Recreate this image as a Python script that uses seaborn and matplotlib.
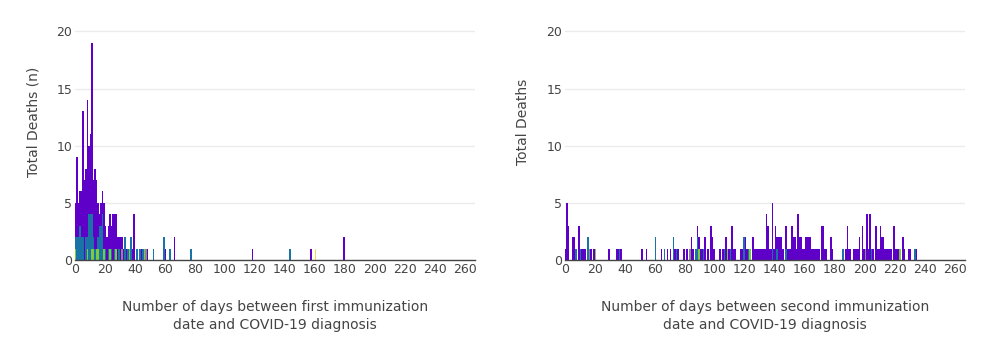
import numpy as np
import pandas as pd
import matplotlib
matplotlib.use("Agg")
import matplotlib.pyplot as plt
import seaborn as sns

# ---------------- data ----------------
# First immunization panel: (day, deaths) per series
first_purple_days = [0, 1, 2, 3, 4, 5, 6, 7, 8, 9, 10, 11, 12, 13, 14, 15, 16, 17, 18, 19,
                     20, 21, 22, 23, 24, 25, 26, 27, 28, 29, 30, 31, 32, 33, 34, 35, 36, 37,
                     38, 39, 41, 43, 44, 45, 46, 47, 48, 52, 59, 60, 63, 66, 77, 118, 143,
                     157, 179]
first_purple_vals = [5, 9, 5, 6, 6, 13, 7, 8, 14, 10, 11, 19, 7, 8, 7, 5, 4, 5, 6, 5,
                     3, 2, 3, 4, 3, 4, 4, 4, 2, 2, 2, 2, 1, 2, 1, 1, 1, 2,
                     1, 4, 1, 1, 1, 1, 1, 1, 1, 1, 2, 1, 1, 2, 1, 1, 1,
                     1, 2]
first_teal_days = [0, 1, 2, 3, 4, 5, 7, 8, 9, 10, 11, 12, 13, 15, 16, 17, 18, 20, 22, 24,
                   26, 29, 33, 35, 37, 41, 43, 45, 52, 59, 63, 77, 143]
first_teal_vals = [2, 2, 2, 3, 2, 2, 2, 2, 4, 4, 4, 2, 1, 2, 3, 3, 4, 1, 1, 1,
                   1, 1, 2, 1, 2, 1, 1, 1, 1, 2, 1, 1, 1]
first_green_days = [0, 8, 11, 12, 14, 15, 19, 23, 27, 36, 46]
first_green_vals = [1, 1, 1, 1, 1, 1, 1, 1, 1, 1, 1]
first_gray_days = [31, 47]
first_gray_vals = [1, 1]
first_yellow_days = [160]
first_yellow_vals = [1]

# Second immunization panel
second_purple_days = [0, 1, 2, 5, 6, 7, 9, 10, 11, 12, 13, 15, 16, 17, 19, 29, 34, 35, 37,
                      51, 54, 60, 64, 66, 68, 70, 72, 73, 75, 79, 81, 83, 84, 85, 87, 88,
                      89, 90, 91, 92, 93, 95, 97, 98, 99, 103, 105, 106, 107, 108, 109,
                      111, 112, 113, 117, 118, 119, 120, 121, 125, 126, 127, 128, 129,
                      130, 131, 132, 133, 134, 135, 136, 137, 138, 139, 140, 141, 142,
                      143, 144, 145, 147, 148, 149, 150, 151, 152, 153, 154, 155, 156,
                      157, 158, 159, 160, 161, 162, 163, 164, 165, 166, 167, 168, 169,
                      171, 172, 173, 174, 177, 178, 185, 187, 188, 189, 190, 192, 193,
                      194, 195, 196, 198, 199, 200, 201, 202, 203, 204, 205, 207, 208,
                      209, 210, 211, 212, 213, 214, 215, 216, 217, 219, 220, 221, 222,
                      223, 225, 226, 229, 230, 234]
second_purple_vals = [1, 5, 3, 2, 2, 1, 3, 1, 1, 1, 1, 2, 1, 1, 1, 1, 1, 1, 1,
                      1, 1, 2, 1, 1, 1, 1, 2, 1, 1, 1, 1, 1, 2, 1, 1, 3,
                      2, 1, 1, 1, 2, 1, 3, 2, 1, 1, 1, 1, 2, 1, 1,
                      3, 1, 1, 1, 1, 2, 2, 1, 2, 1, 1, 1, 1,
                      1, 1, 1, 1, 4, 3, 1, 1, 5, 1, 3, 2, 2,
                      2, 2, 1, 3, 1, 1, 1, 3, 2, 2, 1, 4, 2,
                      2, 1, 1, 2, 2, 2, 2, 1, 1, 1, 1, 1, 1,
                      3, 3, 1, 1, 2, 1, 1, 1, 3, 1, 1, 1, 1,
                      1, 1, 2, 3, 1, 1, 4, 1, 4, 1, 1, 3, 1,
                      1, 3, 2, 2, 1, 1, 1, 1, 1, 3, 1, 1, 1,
                      1, 2, 1, 1, 1, 1]
second_teal_days = [7, 10, 15, 36, 60, 66, 72, 74, 87, 88, 92, 106, 110, 119, 122, 138,
                    141, 147, 185, 204, 233]
second_teal_vals = [1, 1, 2, 1, 2, 1, 2, 1, 1, 2, 1, 1, 1, 2, 1, 1,
                    1, 1, 1, 1, 1]
second_green_days = [20, 89, 108, 123, 223]
second_green_vals = [1, 1, 1, 1, 1]
second_gray_days = [16, 83, 200]
second_gray_vals = [1, 1, 1]

series_names = ["Green", "Yellow", "Gray", "Teal", "Purple"]  # first = on top
palette = {"Purple": "#5F00C8", "Teal": "#1A73A6", "Green": "#7CCB3C",
           "Yellow": "#E5DF55", "Gray": "#8A8A8A"}

xticks = list(range(0, 261, 20))
yticks = [0, 5, 10, 15, 20]
xlabels = ["Number of days between first immunization\ndate and COVID-19 diagnosis",
           "Number of days between second immunization\ndate and COVID-19 diagnosis"]
ylabels = ["Total Deaths (n)", "Total Deaths"]


def make_df(parts):
    rows = []
    for name, days, vals in parts:
        for d, v in zip(days, vals):
            rows.append({"day": d, "deaths": v, "series": name})
    return pd.DataFrame(rows)


df1 = make_df([("Purple", first_purple_days, first_purple_vals),
               ("Teal", first_teal_days, first_teal_vals),
               ("Green", first_green_days, first_green_vals),
               ("Gray", first_gray_days, first_gray_vals),
               ("Yellow", first_yellow_days, first_yellow_vals)])
df2 = make_df([("Purple", second_purple_days, second_purple_vals),
               ("Teal", second_teal_days, second_teal_vals),
               ("Green", second_green_days, second_green_vals),
               ("Gray", second_gray_days, second_gray_vals)])

# ---------------- plot ----------------
sns.set_theme(style="white")
plt.rcParams["font.family"] = ["DejaVu Sans"]

W, H = 991, 364
fig = plt.figure(figsize=(W / 100, H / 100), dpi=100)
fig.patch.set_facecolor("white")

ax_left_px = [75, 565]
ax_w_px, ax_top_px, ax_bot_px = 400, 20, 260

for i, df in enumerate([df1, df2]):
    ax = fig.add_axes([ax_left_px[i] / W, (H - ax_bot_px) / H,
                       ax_w_px / W, (ax_bot_px - ax_top_px) / H])
    order = [s for s in series_names if s in df["series"].unique()]
    sns.histplot(data=df, x="day", weights="deaths", hue="series",
                 hue_order=order, palette=palette, multiple="layer",
                 binwidth=1, binrange=(0, 267), alpha=1, linewidth=0,
                 legend=False, ax=ax)
    ax.set_xlim(0, 266.7)
    ax.set_ylim(0, 21)
    ax.set_xticks(xticks)
    ax.set_yticks(yticks)
    ax.grid(axis="y", color="#EBEBEB", linewidth=1)
    ax.grid(axis="x", visible=False)
    ax.set_axisbelow(True)
    for s in ["top", "right", "left"]:
        ax.spines[s].set_visible(False)
    ax.spines["bottom"].set_color("#444444")
    ax.spines["bottom"].set_linewidth(1)
    ax.tick_params(axis="both", length=0, labelsize=9, labelcolor="#444444")
    ax.tick_params(axis="x", pad=2)
    ax.tick_params(axis="y", pad=2)
    ax.set_xlabel(xlabels[i], fontsize=10, color="#444444", linespacing=1.4,
                  ha="center", va="top")
    ax.xaxis.set_label_coords(0.5, -0.165)
    ax.set_ylabel(ylabels[i], fontsize=10, color="#444444")
    ax.yaxis.set_label_coords(-0.087, 0.575)

fig.savefig("out.png", dpi=100, facecolor="white")
